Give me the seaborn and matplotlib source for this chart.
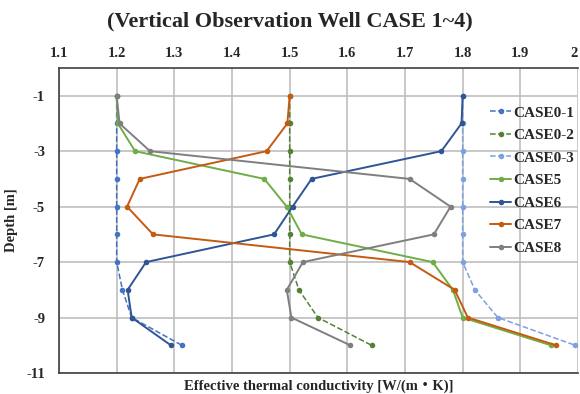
import numpy as np
import pandas as pd
import matplotlib
matplotlib.use("Agg")
import matplotlib.pyplot as plt
import seaborn as sns

depths = [-1, -2, -3, -4, -5, -6, -7, -8, -9, -10]
case0_1 = [1.20, 1.20, 1.20, 1.20, 1.20, 1.20, 1.20, 1.210, 1.226, 1.313]
case0_2 = [1.50, 1.50, 1.50, 1.50, 1.50, 1.50, 1.50, 1.516, 1.549, 1.642]
case0_3 = [1.80, 1.80, 1.80, 1.80, 1.80, 1.80, 1.80, 1.821, 1.861, 1.995]
case5 = [1.20, 1.202, 1.232, 1.456, 1.495, 1.521, 1.748, 1.783, 1.800, 1.953]
case6 = [1.80, 1.798, 1.763, 1.538, 1.505, 1.473, 1.251, 1.219, 1.226, 1.294]
case7 = [1.50, 1.496, 1.460, 1.240, 1.218, 1.263, 1.708, 1.786, 1.809, 1.962]
case8 = [1.20, 1.205, 1.258, 1.708, 1.779, 1.750, 1.523, 1.495, 1.503, 1.605]

names = ["CASE0-1", "CASE0-2", "CASE0-3", "CASE5", "CASE6", "CASE7", "CASE8"]
values = [case0_1, case0_2, case0_3, case5, case6, case7, case8]
colors = ["#4472C4", "#548235", "#7DA0E0", "#70AD47", "#2F5597", "#C55A11", "#7F7F7F"]
dashed = [True, True, True, False, False, False, False]

x_ticks = [1.1, 1.2, 1.3, 1.4, 1.5, 1.6, 1.7, 1.8, 1.9, 2.0]
x_tick_labels = ["1.1", "1.2", "1.3", "1.4", "1.5", "1.6", "1.7", "1.8", "1.9", "2"]
y_ticks = [-1, -3, -5, -7, -9, -11]

sns.set_theme(style="white")
plt.rcParams["font.family"] = ["Liberation Serif", "Noto Sans CJK JP"]
plt.rcParams["font.weight"] = "bold"
plt.rcParams["axes.unicode_minus"] = False

fig = plt.figure(figsize=(5.8, 3.94), dpi=100)
ax = fig.add_axes([59 / 580, 1 - 373 / 394, (578 - 59) / 580, (373 - 68) / 394])

for name, vals, c, d in zip(names, values, colors, dashed):
    df = pd.DataFrame({"k": vals, "depth": depths})
    sns.lineplot(data=df, x="k", y="depth", sort=False, estimator=None, ax=ax,
                 color=c, linestyle="--" if d else "-", linewidth=1.1 if d else 1.4,
                 marker="o", markersize=4, markeredgewidth=0, label=name)

ax.set_xlim(1.1, 2.0)
ax.set_ylim(-11, 0)
ax.set_xticks(x_ticks)
ax.set_xticklabels(x_tick_labels)
ax.set_yticks(y_ticks)
ax.xaxis.tick_top()
ax.tick_params(axis="x", length=0, labelsize=10.5, pad=6)
ax.tick_params(axis="y", length=0, labelsize=10.5, pad=10)
for lab in ax.get_xticklabels() + ax.get_yticklabels():
    lab.set_fontweight("bold")
ax.get_xticklabels()[-1].set_horizontalalignment("right")
ax.grid(True, color="#BFBFBF", linewidth=1.2)
ax.set_axisbelow(True)
for side in ["left", "bottom", "top"]:
    ax.spines[side].set_color("#404040")
    ax.spines[side].set_linewidth(1.2)
ax.spines["right"].set_visible(False)

ax.set_xlabel("")
ax.set_ylabel("Depth [m]", fontsize=10.5, fontweight="bold", labelpad=6)
fig.text(0.55, 0.02, "Effective thermal conductivity [W/(m・K)]", ha="center", va="center",
         fontsize=10.5, fontweight="bold")
fig.text(0.5, 0.945, "(Vertical Observation Well CASE 1~4)", ha="center", va="center",
         fontsize=16, fontweight="bold")

leg = ax.legend(loc="upper left", bbox_to_anchor=(490 / 580, 1 - 106 / 394),
                bbox_transform=fig.transFigure, frameon=False,
                prop={"family": "Liberation Serif", "weight": "bold", "size": 11},
                handlelength=1.4, handletextpad=0.15, labelspacing=0.58,
                borderpad=0, borderaxespad=0)

fig.savefig("out.png", dpi=100)
